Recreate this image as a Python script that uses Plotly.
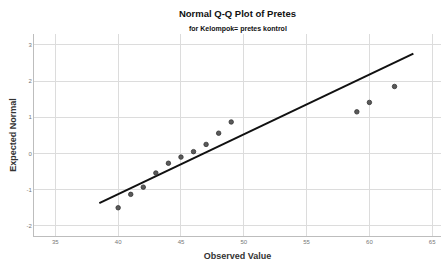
import plotly.graph_objects as go

observed = [40, 41, 42, 43, 44, 45, 46, 47, 48, 49, 59, 60, 62]
expected = [-1.50, -1.13, -0.93, -0.54, -0.27, -0.10, 0.05, 0.25, 0.56, 0.87, 1.15, 1.41, 1.85]
line_x = [38.5, 63.5]
line_y = [-1.37, 2.76]
x_ticks = [35, 40, 45, 50, 55, 60, 65]
y_ticks = [-2, -1, 0, 1, 2, 3]

fig = go.Figure()
fig.add_trace(go.Scatter(x=line_x, y=line_y, mode="lines",
                         line=dict(color="#111111", width=2), hoverinfo="skip"))
fig.add_trace(go.Scatter(x=observed, y=expected, mode="markers",
                         marker=dict(size=4.5, color="#5a5a5a",
                                     line=dict(color="#333333", width=0.8))))

font = "Liberation Sans, Arial, sans-serif"
fig.update_layout(
    width=446, height=269,
    margin=dict(l=34, r=5, t=34, b=33, autoexpand=False),
    paper_bgcolor="white", plot_bgcolor="white",
    showlegend=False,
    font=dict(family=font, color="#222222"),
    title=dict(text="<b>Normal Q-Q Plot of Pretes</b>",
               x=0.5, xanchor="center", xref="paper", y=1 - 14 / 269, yanchor="middle",
               font=dict(size=9.5, color="#111111", family=font), automargin=False),
)
fig.add_annotation(text="<b>for Kelompok= pretes kontrol</b>", xref="paper", yref="paper",
                   x=0.5, xanchor="center", y=(269 - 33 - 29) / (269 - 34 - 33), yanchor="middle",
                   showarrow=False, font=dict(size=7, color="#111111", family=font))
fig.update_xaxes(range=[33.3, 65.7], tickvals=x_ticks, ticktext=[str(v) for v in x_ticks],
                 showgrid=True, gridcolor="#dcdcdc", gridwidth=1, zeroline=False,
                 showline=True, linecolor="#bdbdbd", linewidth=1, automargin=False,
                 tickfont=dict(size=6, color="#777777"), ticks="",
                 title=dict(text="<b>Observed Value</b>", font=dict(size=9, color="#333333"), standoff=8))
fig.update_yaxes(range=[-2.28, 3.3], tickvals=y_ticks, ticktext=[str(v) for v in y_ticks],
                 showgrid=True, gridcolor="#dcdcdc", gridwidth=1, zeroline=False,
                 showline=True, linecolor="#bdbdbd", linewidth=1, automargin=False,
                 tickfont=dict(size=6, color="#777777"), ticks="",
                 title=dict(text="<b>Expected Normal</b>", font=dict(size=9, color="#333333"), standoff=8))

fig.write_html("out.html", config={"displayModeBar": False},
               post_script="document.body.style.margin='0';")
